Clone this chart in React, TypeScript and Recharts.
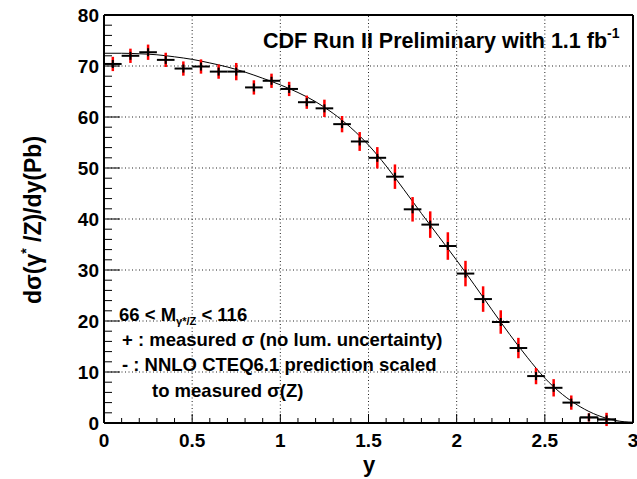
import { ComposedChart, Line, Scatter, ErrorBar, XAxis, YAxis, ReferenceLine } from 'recharts';

// measured d(sigma)/dy per rapidity bin (bin width 0.1)
const binCenters = [
  0.05, 0.15, 0.25, 0.35, 0.45, 0.55, 0.65, 0.75, 0.85, 0.95,
  1.05, 1.15, 1.25, 1.35, 1.45, 1.55, 1.65, 1.75, 1.85, 1.95,
  2.05, 2.15, 2.25, 2.35, 2.45, 2.55, 2.65, 2.75, 2.85,
];
const measured = [
  70.4, 72.0, 72.7, 71.2, 69.5, 69.9, 68.9, 68.9, 65.8, 67.1,
  65.5, 62.9, 61.7, 58.6, 55.2, 52.0, 48.3, 41.9, 38.9, 34.7,
  29.3, 24.3, 19.8, 14.7, 9.2, 6.9, 4.0, 1.1, 0.7,
];
const totalErr = [
  1.4, 1.4, 1.5, 1.4, 1.4, 1.4, 1.4, 1.7, 1.4, 1.4,
  1.4, 1.3, 1.7, 1.6, 1.85, 2.1, 2.4, 2.4, 2.6, 2.7,
  2.5, 2.5, 2.3, 2.0, 1.6, 1.7, 1.4, 0.8, 1.3,
];
const halfBin = 0.05;

// NNLO CTEQ6.1 prediction
const theoryY = [
  0, 0.1, 0.2, 0.3, 0.4, 0.5, 0.6, 0.7, 0.8, 0.9, 1.0,
  1.1, 1.2, 1.3, 1.4, 1.5, 1.6, 1.7, 1.8, 1.9, 2.0,
  2.1, 2.2, 2.3, 2.4, 2.5, 2.6, 2.7, 2.8, 2.9, 3.0,
];
const theoryVal = [
  72.5, 72.5, 72.4, 72.2, 71.8, 71.3, 70.6, 69.8, 68.8, 67.6, 66.3,
  64.8, 63.0, 60.7, 57.9, 54.5, 50.4, 45.8, 41.1, 36.5, 31.9,
  27.1, 22.2, 17.4, 12.9, 8.8, 5.6, 3.2, 1.5, 0.5, 0.1,
];

// histogram outline of the last bins
const tailEdges = [2.7, 2.7, 2.8, 2.8, 2.9, 2.9, 3.0];
const tailVal = [0, 1.1, 1.1, 0.7, 0.7, 0.1, 0.1];

const xTicks = [
  0, 0.1, 0.2, 0.3, 0.4, 0.5, 0.6, 0.7, 0.8, 0.9, 1, 1.1, 1.2, 1.3, 1.4, 1.5,
  1.6, 1.7, 1.8, 1.9, 2, 2.1, 2.2, 2.3, 2.4, 2.5, 2.6, 2.7, 2.8, 2.9, 3,
];
const yTicks = [
  0, 2, 4, 6, 8, 10, 12, 14, 16, 18, 20, 22, 24, 26, 28, 30, 32, 34, 36, 38, 40,
  42, 44, 46, 48, 50, 52, 54, 56, 58, 60, 62, 64, 66, 68, 70, 72, 74, 76, 78, 80,
];
const xGrid = [0.5, 1, 1.5, 2, 2.5];
const yGrid = [10, 20, 30, 40, 50, 60, 70];

const FONT = '"Liberation Sans", Arial, Helvetica, sans-serif';

const points = binCenters.map((x, i) => ({ x, v: measured[i], err: totalErr[i], xerr: halfBin }));
const theory = theoryY.map((x, i) => ({ x, v: theoryVal[i] }));
const tail = tailEdges.map((x, i) => ({ x, v: tailVal[i] }));

const YTick = (props: any) => {
  const { x, y, payload } = props;
  const major = payload.value % 10 === 0;
  return (
    <g>
      <line x1={x} x2={x + (major ? 16 : 8)} y1={y} y2={y} stroke="#000" strokeWidth={1} />
      {major && (
        <text x={x - 5} y={y + 7} textAnchor="end" fontSize={19} fontWeight="bold" fontFamily={FONT} fill="#000">
          {payload.value}
        </text>
      )}
    </g>
  );
};

const XTick = (props: any) => {
  const { x, y, payload } = props;
  const v = payload.value;
  const major = Math.abs(v * 2 - Math.round(v * 2)) < 1e-6;
  return (
    <g>
      <line x1={x} x2={x} y1={y} y2={y - (major ? 9 : 5)} stroke="#000" strokeWidth={1} />
      {major && (
        <text x={x} y={y + 24} textAnchor="middle" fontSize={19} fontWeight="bold" fontFamily={FONT} fill="#000">
          {String(v)}
        </text>
      )}
    </g>
  );
};

const Marker = (props: any) => {
  const { cx, cy } = props;
  return <line x1={cx} x2={cx} y1={cy - 4} y2={cy + 4} stroke="#000" strokeWidth={2} />;
};

export default function App() {
  return (
    <div style={{ position: 'absolute', left: 0, top: 0, width: 637, height: 479, background: '#fff' }}>
      <ComposedChart width={637} height={479} data={points} margin={{ top: 15, right: 4, bottom: 0, left: 0 }}>
        <XAxis
          dataKey="x"
          type="number"
          domain={[0, 3]}
          ticks={xTicks}
          interval={0}
          tick={<XTick />}
          tickLine={false}
          tickSize={0}
          tickMargin={0}
          height={56}
          axisLine={{ stroke: '#000', strokeWidth: 2 }}
          allowDataOverflow
        />
        <YAxis
          type="number"
          domain={[0, 80]}
          ticks={yTicks}
          interval={0}
          tick={<YTick />}
          tickLine={false}
          tickSize={0}
          tickMargin={0}
          width={104}
          axisLine={{ stroke: '#000', strokeWidth: 2 }}
          allowDataOverflow
        />
        {xGrid.map(v => (
          <ReferenceLine key={'gx' + v} x={v} stroke="#222" strokeDasharray="1 2.5" strokeWidth={1} />
        ))}
        {yGrid.map(v => (
          <ReferenceLine key={'gy' + v} y={v} stroke="#222" strokeDasharray="1 2.5" strokeWidth={1} />
        ))}
        <ReferenceLine y={80} stroke="#000" strokeWidth={2} />
        <ReferenceLine x={3} stroke="#000" strokeWidth={2} />
        <Line
          data={theory}
          dataKey="v"
          type="monotone"
          stroke="#000"
          strokeWidth={1}
          dot={false}
          activeDot={false}
          isAnimationActive={false}
        />
        <Line
          data={tail}
          dataKey="v"
          type="linear"
          stroke="#000"
          strokeWidth={1.5}
          dot={false}
          activeDot={false}
          isAnimationActive={false}
        />
        <Scatter dataKey="v" shape={<Marker />} isAnimationActive={false}>
          <ErrorBar dataKey="err" direction="y" width={0} stroke="#ff0000" strokeWidth={2.5} />
          <ErrorBar dataKey="xerr" direction="x" width={0} stroke="#000" strokeWidth={2} />
        </Scatter>
      </ComposedChart>
      <svg
        width={637}
        height={479}
        style={{ position: 'absolute', left: 0, top: 0, pointerEvents: 'none' }}
        fontFamily={FONT}
        fontWeight="bold"
        fill="#000"
      >
        <text x={263} y={48} fontSize={21.5}>
          CDF Run II Preliminary with 1.1 fb
          <tspan dy={-10} fontSize={14}>-1</tspan>
        </text>
        <text x={119} y={321} fontSize={18.5}>
          66 &lt; M
          <tspan dy={4} fontSize={11}>γ*/Z</tspan>
          <tspan dy={-4}> &lt; 116</tspan>
        </text>
        <text x={122} y={346} fontSize={18.5}>+ : measured σ (no lum. uncertainty)</text>
        <text x={122} y={371} fontSize={18.5}>- : NNLO CTEQ6.1 prediction scaled</text>
        <text x={152} y={397} fontSize={18.5}>to measured σ(Z)</text>
        <text x={369} y={472} fontSize={22} textAnchor="middle">y</text>
        <text transform="translate(41, 220) rotate(-90)" fontSize={23} textAnchor="middle">
          dσ(γ
          <tspan dy={-10} fontSize={14}>*</tspan>
          <tspan dy={10}> /Z)/dy(Pb)</tspan>
        </text>
      </svg>
    </div>
  );
}
